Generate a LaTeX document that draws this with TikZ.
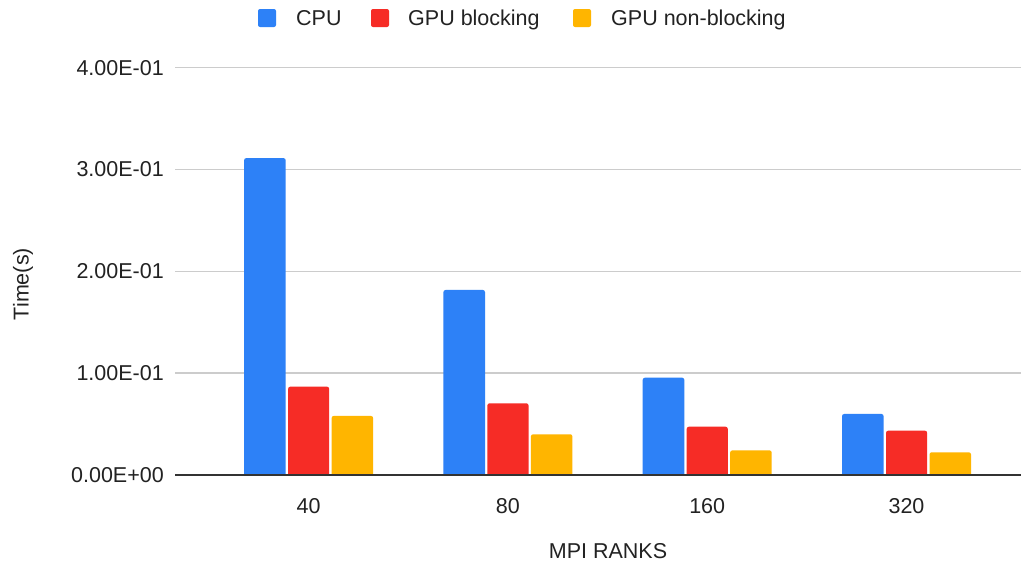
\documentclass[tikz,border=0pt]{standalone}
\usepackage{fontspec}
\setmainfont{Liberation Sans}
\definecolor{cpublue}{RGB}{45,129,247}
\definecolor{gpured}{RGB}{246,44,38}
\definecolor{gpuyellow}{RGB}{255,181,0}
\definecolor{gridgray}{RGB}{204,204,204}
\definecolor{axisgray}{RGB}{51,51,51}
\definecolor{labelgray}{RGB}{34,34,34}
% bar with rounded top corners: x0, x1, value, colour
\newcommand{\colbar}[4]{%
  \pgfmathsetmacro{\bartop}{475-#3*1019}%
  \fill[#4] (#1,475) [rounded corners=2.2] -- (#1,\bartop) -- (#2,\bartop) [sharp corners] -- (#2,475) -- cycle;%
}
\tikzset{
  chartfont/.style={font=\fontsize{21.5}{25}\selectfont, text=labelgray, inner sep=0pt},
  gridline/.style={draw=gridgray, line width=1.3},
  axisline/.style={draw=axisgray, line width=1.5},
  legendbox/.style={rounded corners=2},
}
\begin{document}
\begin{tikzpicture}[x=1pt,y=-1pt]
\useasboundingbox (0,0) rectangle (1030,562);
\fill[white] (0,0) rectangle (1030,562);

% horizontal grid and value labels
\foreach \v/\lab in {0.1/1.00E-01, 0.2/2.00E-01, 0.3/3.00E-01, 0.4/4.00E-01}{
  \pgfmathsetmacro{\gy}{475-\v*1019}
  \draw[gridline] (175,\gy) -- (1021,\gy);
  \node[chartfont, anchor=base east] at (164,\gy+7.7) {\lab};
}
\node[chartfont, anchor=base east] (yzero) at (164,475+7.7) {0.00E+00};

% bars per rank count
\foreach \g/\a/\b/\c [count=\i from 0] in {40/0.311/0.0867/0.058, 80/0.1816/0.0704/0.040, 160/0.0955/0.0474/0.0242, 320/0.0599/0.0435/0.0223}{
  \pgfmathsetmacro{\cx}{308.6+199.3*\i}
  \colbar{\cx-64.5}{\cx-22.9}{\a}{cpublue}
  \colbar{\cx-20.5}{\cx+20.6}{\b}{gpured}
  \colbar{\cx+23}{\cx+64.5}{\c}{gpuyellow}
  \node[chartfont, anchor=base] (cat\i) at (\cx,513) {\g};
}

% baseline axis
\draw[axisline] (175,475) -- (1021,475);

% axis titles
\node[chartfont, rotate=90] (ytitle) at (23,284) {Time(s)};
\node[chartfont, anchor=base] (xtitle) at (608,558) {MPI RANKS};

% legend
\fill[cpublue, legendbox] (258,9) rectangle (276,27);
\node[chartfont, anchor=base west] (legcpu) at (296,25.8) {CPU};
\fill[gpured, legendbox] (371,9) rectangle (389,27);
\node[chartfont, anchor=base west] (legblk) at (408,25.8) {GPU blocking};
\fill[gpuyellow, legendbox] (573,9) rectangle (591,27);
\node[chartfont, anchor=base west] (legnb) at (611,25.8) {GPU non-blocking};
\end{tikzpicture}
\end{document}
